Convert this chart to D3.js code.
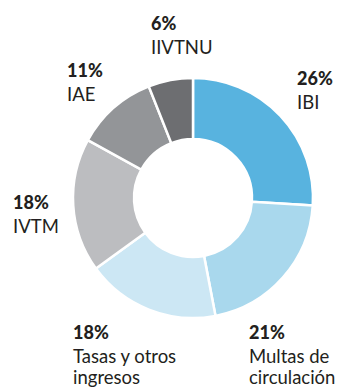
<!DOCTYPE html>
<html>
<head>
<meta charset="utf-8">
<script src="https://cdn.jsdelivr.net/npm/d3@7"></script>
<style>
  html, body { margin: 0; padding: 0; background: #fff; }
  svg { display: block; }
  text { font-family: Lato, "Open Sans", sans-serif; fill: #231f20; }
</style>
</head>
<body>
<script>
// Income breakdown (percentages)
const categories = ["IBI", "Multas de circulación", "Tasas y otros ingresos", "IVTM", "IAE", "IIVTNU"];
const values = [26, 21, 18, 18, 11, 6];
const colors = ["#58b3df", "#a9d8ed", "#cce7f4", "#bcbdc0", "#939598", "#6d6e71"];
// Label lines per slice (wrapped text)
const labelLines = [["IBI"], ["Multas de", "circulación"], ["Tasas y otros", "ingresos"], ["IVTM"], ["IAE"], ["IIVTNU"]];
// Label anchor (left x, baseline of the percentage line)
const labelPos = [[297, 85], [249, 339], [73, 339], [13, 209], [67, 77], [151, 30]];

const W = 343, H = 389;
const cx = 193, cy = 198, rOuter = 120, rInner = 59;

const svg = d3.select("body").append("svg").attr("width", W).attr("height", H);

const data = categories.map((c, i) => ({ name: c, value: values[i], color: colors[i], lines: labelLines[i], pos: labelPos[i] }));

const pie = d3.pie().value(d => d.value).sort(null);
const arc = d3.arc().innerRadius(rInner).outerRadius(rOuter);

const g = svg.append("g").attr("transform", `translate(${cx},${cy})`);
g.selectAll("path")
  .data(pie(data))
  .join("path")
  .attr("d", arc)
  .attr("fill", d => d.data.color)
  .attr("stroke", "#fff")
  .attr("stroke-width", 2.5)
  .attr("stroke-linejoin", "miter");

const labels = svg.selectAll("g.label")
  .data(data)
  .join("g")
  .attr("class", "label")
  .attr("transform", d => `translate(${d.pos[0]},${d.pos[1]})`);

labels.append("text")
  .attr("font-size", 18)
  .attr("font-weight", 900)
  .text(d => d.value + "%");

labels.each(function (d) {
  const t = d3.select(this);
  d.lines.forEach((line, j) => {
    t.append("text")
      .attr("y", 24 + j * 21)
      .attr("font-size", 18.5)
      .text(line);
  });
});
</script>
</body>
</html>
